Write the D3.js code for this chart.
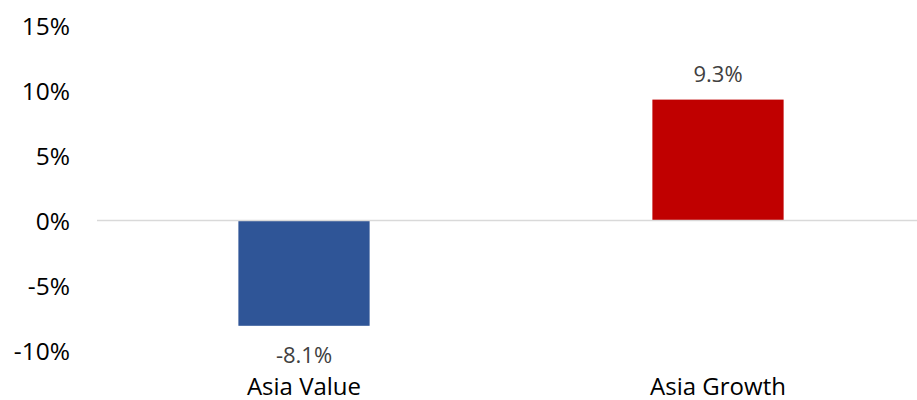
<!DOCTYPE html>
<html>
<head>
<meta charset="utf-8">
<script src="https://cdn.jsdelivr.net/npm/d3@7"></script>
<style>
  html, body { margin: 0; padding: 0; background: #fff; }
  svg { display: block; font-family: "Open Sans", sans-serif; }
</style>
</head>
<body>
<svg id="chart" width="917" height="400"></svg>
<script>
const categories = ["Asia Value", "Asia Growth"];
const values = [-8.1, 9.3];
const colors = ["#2F5597", "#C00000"];
const tickValues = [-10, -5, 0, 5, 10, 15];

const svg = d3.select("#chart");
const y = d3.scaleLinear().domain([-10, 15]).range([350.5, 25.5]);
const x = d3.scaleBand().domain(categories).range([97, 925])
  .paddingInner(0.683).paddingOuter(0.3415);

// y tick labels
svg.append("g").selectAll("text").data(tickValues).join("text")
  .attr("x", 70).attr("y", d => y(d) + 9)
  .attr("text-anchor", "end")
  .attr("font-size", 24.5).attr("fill", "#000")
  .text(d => d + "%");

// bars
svg.append("g").selectAll("rect").data(values).join("rect")
  .attr("x", (d, i) => x(categories[i]))
  .attr("width", x.bandwidth())
  .attr("y", d => y(Math.max(0, d)))
  .attr("height", d => Math.abs(y(d) - y(0)))
  .attr("fill", (d, i) => colors[i]);

// zero line
svg.append("line")
  .attr("x1", 97).attr("x2", 925)
  .attr("y1", y(0)).attr("y2", y(0))
  .attr("stroke", "#D9D9D9").attr("stroke-width", 1.5);

// data labels
svg.append("g").selectAll("text").data(values).join("text")
  .attr("x", (d, i) => x(categories[i]) + x.bandwidth() / 2)
  .attr("y", d => d >= 0 ? y(d) - 18 : y(d) + 37.5)
  .attr("text-anchor", "middle")
  .attr("font-size", 22).attr("fill", "#404040")
  .text(d => d.toFixed(1) + "%");

// category labels
svg.append("g").selectAll("text").data(categories).join("text")
  .attr("x", d => x(d) + x.bandwidth() / 2)
  .attr("y", 394.5)
  .attr("text-anchor", "middle")
  .attr("font-size", 24).attr("fill", "#000")
  .text(d => d);
</script>
</body>
</html>
